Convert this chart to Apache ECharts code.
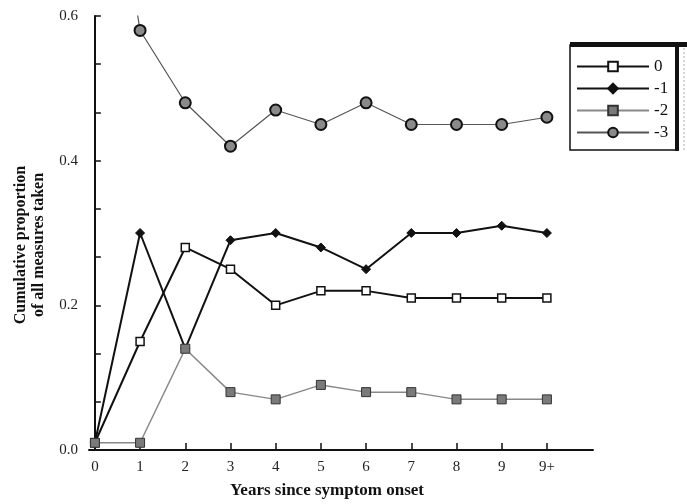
<!DOCTYPE html>
<html>
<head>
<meta charset="utf-8">
<script src="https://cdn.jsdelivr.net/npm/echarts@6/dist/echarts.min.js"></script>
<style>
html,body{margin:0;padding:0;background:#fff;}
#chart{width:687px;height:504px;}
</style>
</head>
<body>
<div id="chart"></div>
<script>
// ---- data ----
const categories = ['0','1','2','3','4','5','6','7','8','9','9+'];
const seriesNames = ['0','-1','-2','-3'];
const values0  = [0.01, 0.15, 0.28, 0.25, 0.20, 0.22, 0.22, 0.21, 0.21, 0.21, 0.21];
const valuesM1 = [0.01, 0.30, 0.14, 0.29, 0.30, 0.28, 0.25, 0.30, 0.30, 0.31, 0.30];
const valuesM2 = [0.01, 0.01, 0.14, 0.08, 0.07, 0.09, 0.08, 0.08, 0.07, 0.07, 0.07];
const valuesM3 = [0.97, 0.58, 0.48, 0.42, 0.47, 0.45, 0.48, 0.45, 0.45, 0.45, 0.46];
const yTicks = [0, 0.2, 0.4, 0.6];

function pts(arr){ return arr.map((v,i)=>[i,v]); }

const serif = '"Liberation Serif","DejaVu Serif",serif';
const chart = echarts.init(document.getElementById('chart'));
const idx = categories.map((c,i)=>i);

chart.setOption({
  animation:false,
  backgroundColor:'#fff',
  grid:{left:89, right:94, top:16, bottom:54},
  xAxis:{
    type:'value', min:-0.13, max:11.02,
    splitLine:{show:false},
    axisLine:{lineStyle:{color:'#111', width:2}},
    axisTick:{inside:true, length:7, lineStyle:{color:'#111', width:1.5}, customValues: idx.slice(1)},
    axisLabel:{customValues: idx, formatter:(v)=>categories[Math.round(v)] ?? '', color:'#222', fontFamily:serif, fontSize:15, margin:10},
    name:'Years since symptom onset', nameLocation:'middle', nameGap:32,
    nameTextStyle:{fontFamily:serif, fontWeight:'bold', fontSize:17, color:'#111', padding:[0,28,0,0]}
  },
  yAxis:{
    type:'value', min:0, max:0.6, interval:0.2,
    splitLine:{show:false},
    axisLine:{show:true, lineStyle:{color:'#111', width:2}},
    axisTick:{show:true, inside:true, length:6, lineStyle:{color:'#111', width:1.5}},
    minorTick:{show:true, splitNumber:3, length:6, lineStyle:{color:'#111', width:1.5}},
    minorSplitLine:{show:false},
    axisLabel:{formatter:(v)=>v.toFixed(1), color:'#222', fontFamily:serif, fontSize:15, margin:11},
    name:'Cumulative proportion\nof all measures taken', nameLocation:'middle', nameGap:35, nameRotate:90,
    nameTextStyle:{fontFamily:serif, fontWeight:'bold', fontSize:16, color:'#111', lineHeight:18, padding:[0,24,0,0]}
  },
  legend:{
    orient:'vertical', left:576, top:58, padding:0,
    itemWidth:72, itemHeight:12, itemGap:5,
    data:seriesNames,
    textStyle:{fontFamily:serif, fontSize:17, color:'#111'}
  },
  graphic:[
    {type:'rect', shape:{x:570, y:45, width:107, height:105}, style:{fill:'none', stroke:'#111', lineWidth:1.5}, z:100},
    {type:'rect', shape:{x:570, y:42, width:117, height:5}, style:{fill:'#111'}, z:100},
    {type:'rect', shape:{x:675, y:42, width:4, height:109}, style:{fill:'#111'}, z:100},
    {type:'line', shape:{x1:684, y1:48, x2:684, y2:150}, style:{stroke:'#aaa', lineWidth:1, lineDash:[2,2]}, z:100}
  ],
  series:[
    {name:'0', type:'line', data:pts(values0), symbol:'rect', symbolSize:8,
     lineStyle:{color:'#111', width:2}, itemStyle:{color:'#fff', borderColor:'#111', borderWidth:1.5}},
    {name:'-1', type:'line', data:pts(valuesM1), symbol:'diamond', symbolSize:9,
     lineStyle:{color:'#111', width:2}, itemStyle:{color:'#111', borderColor:'#111', borderWidth:1}},
    {name:'-2', type:'line', data:pts(valuesM2), symbol:'rect', symbolSize:9,
     lineStyle:{color:'#888', width:1.5}, itemStyle:{color:'#7a7a7a', borderColor:'#333', borderWidth:1}},
    {name:'-3', type:'line', data:pts(valuesM3), symbol:'circle', symbolSize:11,
     lineStyle:{color:'#555', width:1.2}, itemStyle:{color:'#8a8a8a', borderColor:'#111', borderWidth:2}}
  ]
});
</script>
</body>
</html>
